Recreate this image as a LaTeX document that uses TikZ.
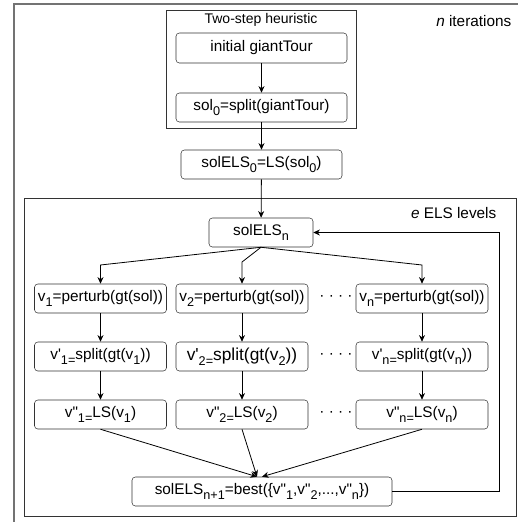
\documentclass[tikz,border=0pt]{standalone}
\usepackage{fontspec}
\newfontfamily\arialfont{Liberation Sans}
\usetikzlibrary{arrows.meta}
\newcommand{\lowsub}[1]{\raisebox{-0.32em}{\fontsize{9.5}{10}\selectfont #1}}

\begin{document}
\begin{tikzpicture}[x=0.75pt,y=-0.75pt,>={Stealth[length=5pt,width=4.5pt]},
    font=\arialfont\fontsize{11.5}{13}\selectfont]
	\path[use as bounding box] (0,0) rectangle (518,522);
	% frames
	\draw[black!55,line width=1.4pt] (518,4) -- (14,4) -- (14,522);
	\draw[black!80,line width=0.6pt] (24,198) rectangle (516,516);
	\draw[black!80,line width=0.6pt] (166,10) rectangle (356,128);
	\node (twostep) at (261,20) {\fontsize{10.5}{12}\selectfont Two-step heuristic};
	\node[anchor=east] (iter) at (516,21) {\textit{n} iterations};
	\node[anchor=east] (levels) at (501,213) {\textit{e} ELS levels};
	
	\begin{scope}[every node/.style={draw=black!80,rounded corners=2.5pt,inner sep=0pt,minimum height=21.75pt}]
		\node[minimum width=128.25pt,minimum height=22.5pt] (init) at (261.5,48) {initial giantTour};
		\node[minimum width=128.25pt] (sol0) at (261.5,107.5) {sol\lowsub{0}=split(giantTour)};
		\node[minimum width=120.75pt] (els0) at (261.5,164.5) {solELS\lowsub{0}=LS(sol\lowsub{0})};
		\node[minimum width=78pt] (elsn) at (261,232.5) {solELS\lowsub{n}};
		
		\node[minimum width=99pt] (p1) at (100.5,298.5) {v\lowsub{1}=perturb(gt(sol))};
		\node[minimum width=99pt] (p2) at (242,298.5) {v\lowsub{2}=perturb(gt(sol))};
		\node[minimum width=99pt] (p3) at (422,298.5) {v\lowsub{n}=perturb(gt(sol))};
		
		\node[minimum width=99pt] (s1) at (100.5,356.5) {v'\lowsub{1=}split(gt(v\lowsub{1}))};
		\node[minimum width=99pt,font=\arialfont\fontsize{13}{15}\selectfont] (s2) at (242,356.5) {v'\lowsub{2=}split(gt(v\lowsub{2}))};
		\node[minimum width=99pt] (s3) at (422,356.5) {v'\lowsub{n=}split(gt(v\lowsub{n}))};
		
		\node[minimum width=99pt] (l1) at (100.5,414.5) {v"\lowsub{1=}LS(v\lowsub{1})};
		\node[minimum width=99pt] (l2) at (242,414.5) {v"\lowsub{2=}LS(v\lowsub{2})};
		\node[minimum width=99pt] (l3) at (422,414.5) {v"\lowsub{n=}LS(v\lowsub{n})};
		
		\node[minimum width=195pt] (best) at (262,491.5) {solELS\lowsub{n+1}=best(\{v"\lowsub{1},v"\lowsub{2},...,v"\lowsub{n}\})};
	\end{scope}
	
	\node (d1) at (336,298) {· · · ·};
	\node (d2) at (336,356) {· · · ·};
	\node (d3) at (336,414) {· · · ·};
	
	\begin{scope}[every edge/.style={draw=black,line width=0.6pt}]
		\path [->] (init) edge (sol0)
		           (sol0) edge (els0)
		           (els0) edge (elsn);
		\path [->] (p1) edge (s1) (s1) edge (l1)
		           (p2) edge (s2) (s2) edge (l2)
		           (p3) edge (s3) (s3) edge (l3);
		\path [->] (l1.south) edge ([xshift=-3.75pt]best.north)
		           (l2.south) edge ([xshift=-3.75pt]best.north)
		           (l3.south) edge (best.north);
	\end{scope}
	
	\coordinate (fb) at (499,232.5);
	\draw[->,line width=0.6pt] (elsn.south) -- (p1.north |- 0,265) -- (p1.north);
	\draw[->,line width=0.6pt] (elsn.south) -- (p2.north |- 0,262) -- (p2.north);
	\draw[->,line width=0.6pt] (elsn.south) -- (p3.north |- 0,265) -- (p3.north);
	\draw[->,line width=0.6pt] (best.east) -| (fb) -- (elsn.east);
\end{tikzpicture}
\end{document}
